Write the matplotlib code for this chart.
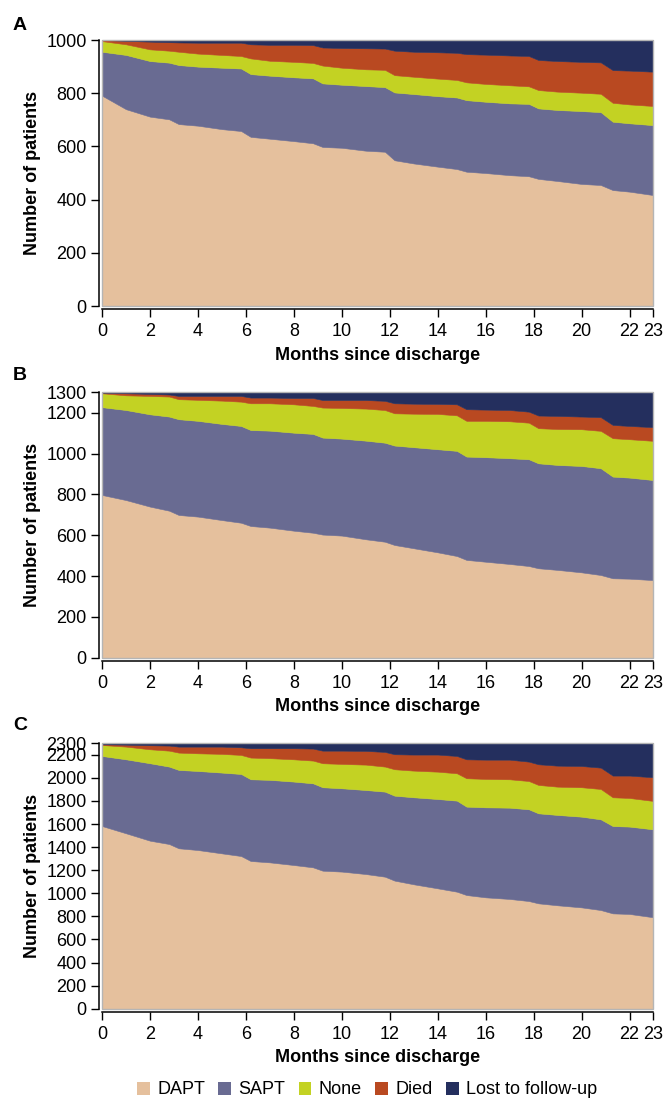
import numpy as np
import matplotlib
matplotlib.use('Agg')
import matplotlib.pyplot as plt
from matplotlib.patches import Rectangle, Patch

plt.rcParams['font.family'] = ['Liberation Sans', 'DejaVu Sans']

# ---------------- data ----------------
months = [0, 1, 2, 2.8, 3.2, 4, 5, 5.8, 6.2, 7, 8, 8.8, 9.2, 10, 11, 11.8,
          12.2, 13, 14, 14.8, 15.2, 16, 17, 17.8, 18.2, 19, 20, 20.8, 21.3, 22, 23]
categories = ['DAPT', 'SAPT', 'None', 'Died', 'Lost to follow-up']
colors = ['#E5C09D', '#696B92', '#C3D223', '#B94921', '#242F5E']

# Panel A
a_dapt = [791, 740, 712, 702, 684, 678, 665, 658, 636, 629, 620, 612, 598, 595, 584, 580,
          548, 536, 524, 515, 505, 500, 492, 488, 478, 470, 459, 455, 436, 430, 417]
a_sapt = [165, 204, 209, 213, 222, 222, 231, 235, 236, 237, 240, 244, 239, 237, 243, 243,
          255, 261, 265, 269, 269, 268, 270, 272, 265, 267, 274, 274, 257, 257, 263]
a_none = [40, 40, 44, 45, 50, 49, 48, 47, 59, 56, 58, 58, 67, 64, 63, 65,
          65, 65, 66, 66, 67, 67, 68, 66, 69, 69, 69, 69, 71, 71, 72]
a_died = [4, 13, 29, 32, 35, 41, 46, 50, 53, 60, 64, 67, 68, 74, 79, 80,
          92, 94, 99, 102, 106, 110, 112, 114, 113, 115, 116, 118, 123, 127, 129]
a_lost = [0, 3, 6, 8, 9, 10, 10, 10, 16, 18, 18, 19, 28, 30, 31, 32,
          40, 44, 46, 48, 53, 55, 58, 60, 75, 79, 82, 84, 113, 115, 119]

# Panel B
b_dapt = [797, 772, 740, 720, 699, 691, 674, 661, 645, 637, 622, 612, 603, 598, 580, 568,
          552, 536, 516, 498, 479, 470, 459, 449, 438, 430, 418, 405, 389, 387, 380]
b_sapt = [430, 441, 452, 461, 469, 469, 471, 474, 470, 475, 480, 484, 475, 475, 483, 485,
          487, 495, 505, 515, 506, 512, 518, 523, 514, 514, 521, 523, 498, 495, 490]
b_none = [68, 72, 90, 98, 98, 103, 114, 119, 131, 134, 139, 137, 147, 150, 157, 160,
          158, 164, 173, 174, 175, 178, 181, 179, 172, 176, 180, 183, 188, 188, 192]
b_died = [3, 10, 10, 10, 16, 19, 23, 28, 28, 28, 31, 39, 37, 39, 42, 45,
          49, 49, 49, 54, 57, 55, 55, 54, 62, 64, 62, 67, 65, 65, 67]
b_lost = [2, 5, 8, 11, 18, 18, 18, 18, 26, 26, 28, 28, 38, 38, 38, 42,
          54, 56, 57, 59, 83, 85, 87, 95, 114, 116, 119, 122, 160, 165, 171]

# Panel C
c_dapt = [1583, 1520, 1456, 1427, 1390, 1375, 1346, 1323, 1280, 1268, 1245, 1225, 1196, 1188, 1167, 1144,
          1110, 1078, 1043, 1014, 985, 965, 951, 933, 913, 896, 878, 855, 826, 821, 792]
c_sapt = [607, 641, 671, 671, 679, 685, 700, 711, 708, 715, 723, 728, 723, 722, 728, 737,
          736, 754, 774, 789, 766, 780, 791, 795, 780, 783, 786, 786, 757, 757, 762]
c_none = [95, 110, 121, 138, 150, 153, 162, 165, 188, 188, 193, 197, 208, 211, 220, 217,
          229, 231, 237, 237, 246, 246, 246, 245, 246, 245, 255, 263, 249, 248, 246]
c_died = [6, 17, 35, 44, 52, 58, 63, 66, 81, 86, 96, 104, 109, 115, 119, 127,
          130, 139, 148, 150, 164, 167, 170, 168, 179, 182, 184, 185, 188, 194, 205]
c_lost = [9, 12, 17, 20, 29, 29, 29, 35, 43, 43, 43, 46, 64, 64, 66, 75,
          95, 98, 98, 110, 139, 142, 142, 159, 182, 194, 197, 211, 280, 280, 295]

x_ticks = [0, 2, 4, 6, 8, 10, 12, 14, 16, 18, 20, 22, 23]
a_yticks = [0, 200, 400, 600, 800, 1000]
b_yticks = [0, 200, 400, 600, 800, 1000, 1200, 1300]
c_yticks = [0, 200, 400, 600, 800, 1000, 1200, 1400, 1600, 1800, 2000, 2200, 2300]

panels = [
    ('A', [a_dapt, a_sapt, a_none, a_died, a_lost], 1000, a_yticks, [0.1534, 0.7218, 0.8293, 0.2418], 0.977),
    ('B', [b_dapt, b_sapt, b_none, b_died, b_lost], 1300, b_yticks, [0.1534, 0.4021, 0.8293, 0.2413], 0.659),
    ('C', [c_dapt, c_sapt, c_none, c_died, c_lost], 2300, c_yticks, [0.1534, 0.0830, 0.8293, 0.2413], 0.340),
]

fig = plt.figure(figsize=(6.65, 11), dpi=100)

for letter, series, ymax, yticks, rect, ly in panels:
    ax = fig.add_axes(rect)
    polys = ax.stackplot(months, *series, colors=colors, linewidth=0)
    for p, c in zip(polys, colors):
        p.set_edgecolor(c)
        p.set_linewidth(0.4)
    ax.set_xlim(0, 23)
    ax.set_ylim(0, ymax)
    ax.set_xticks(x_ticks)
    ax.set_yticks(yticks)
    ax.tick_params(axis='both', labelsize=13, length=5.5, width=1.0, color='black')
    ax.tick_params(axis='x', pad=4.5)
    ax.tick_params(axis='y', pad=3)
    for s in ['top', 'right']:
        ax.spines[s].set_visible(False)
    for s in ['left', 'bottom']:
        ax.spines[s].set_position(('outward', 2.5))
        ax.spines[s].set_linewidth(1.1)
    ax.add_patch(Rectangle((0, 0), 1, 1, transform=ax.transAxes, fill=False,
                           edgecolor='#b5b5b5', linewidth=1.0, zorder=5, clip_on=False))
    ax.set_xlabel('Months since discharge', fontsize=13, fontweight='bold', labelpad=4.5)
    ax.set_ylabel('Number of patients', fontsize=13, fontweight='bold', labelpad=4)
    fig.text(0.030, ly, letter, fontsize=14, fontweight='bold', ha='center', va='center')

handles = [Patch(facecolor=c, edgecolor='none') for c in colors]
fig.legend(handles, categories, loc='center', bbox_to_anchor=(0.552, 10 / 1100), ncol=5,
           frameon=False, fontsize=13, handlelength=0.7, handleheight=0.7,
           handletextpad=0.4, columnspacing=0.75, borderaxespad=0)

fig.savefig('out.png', dpi=100)
